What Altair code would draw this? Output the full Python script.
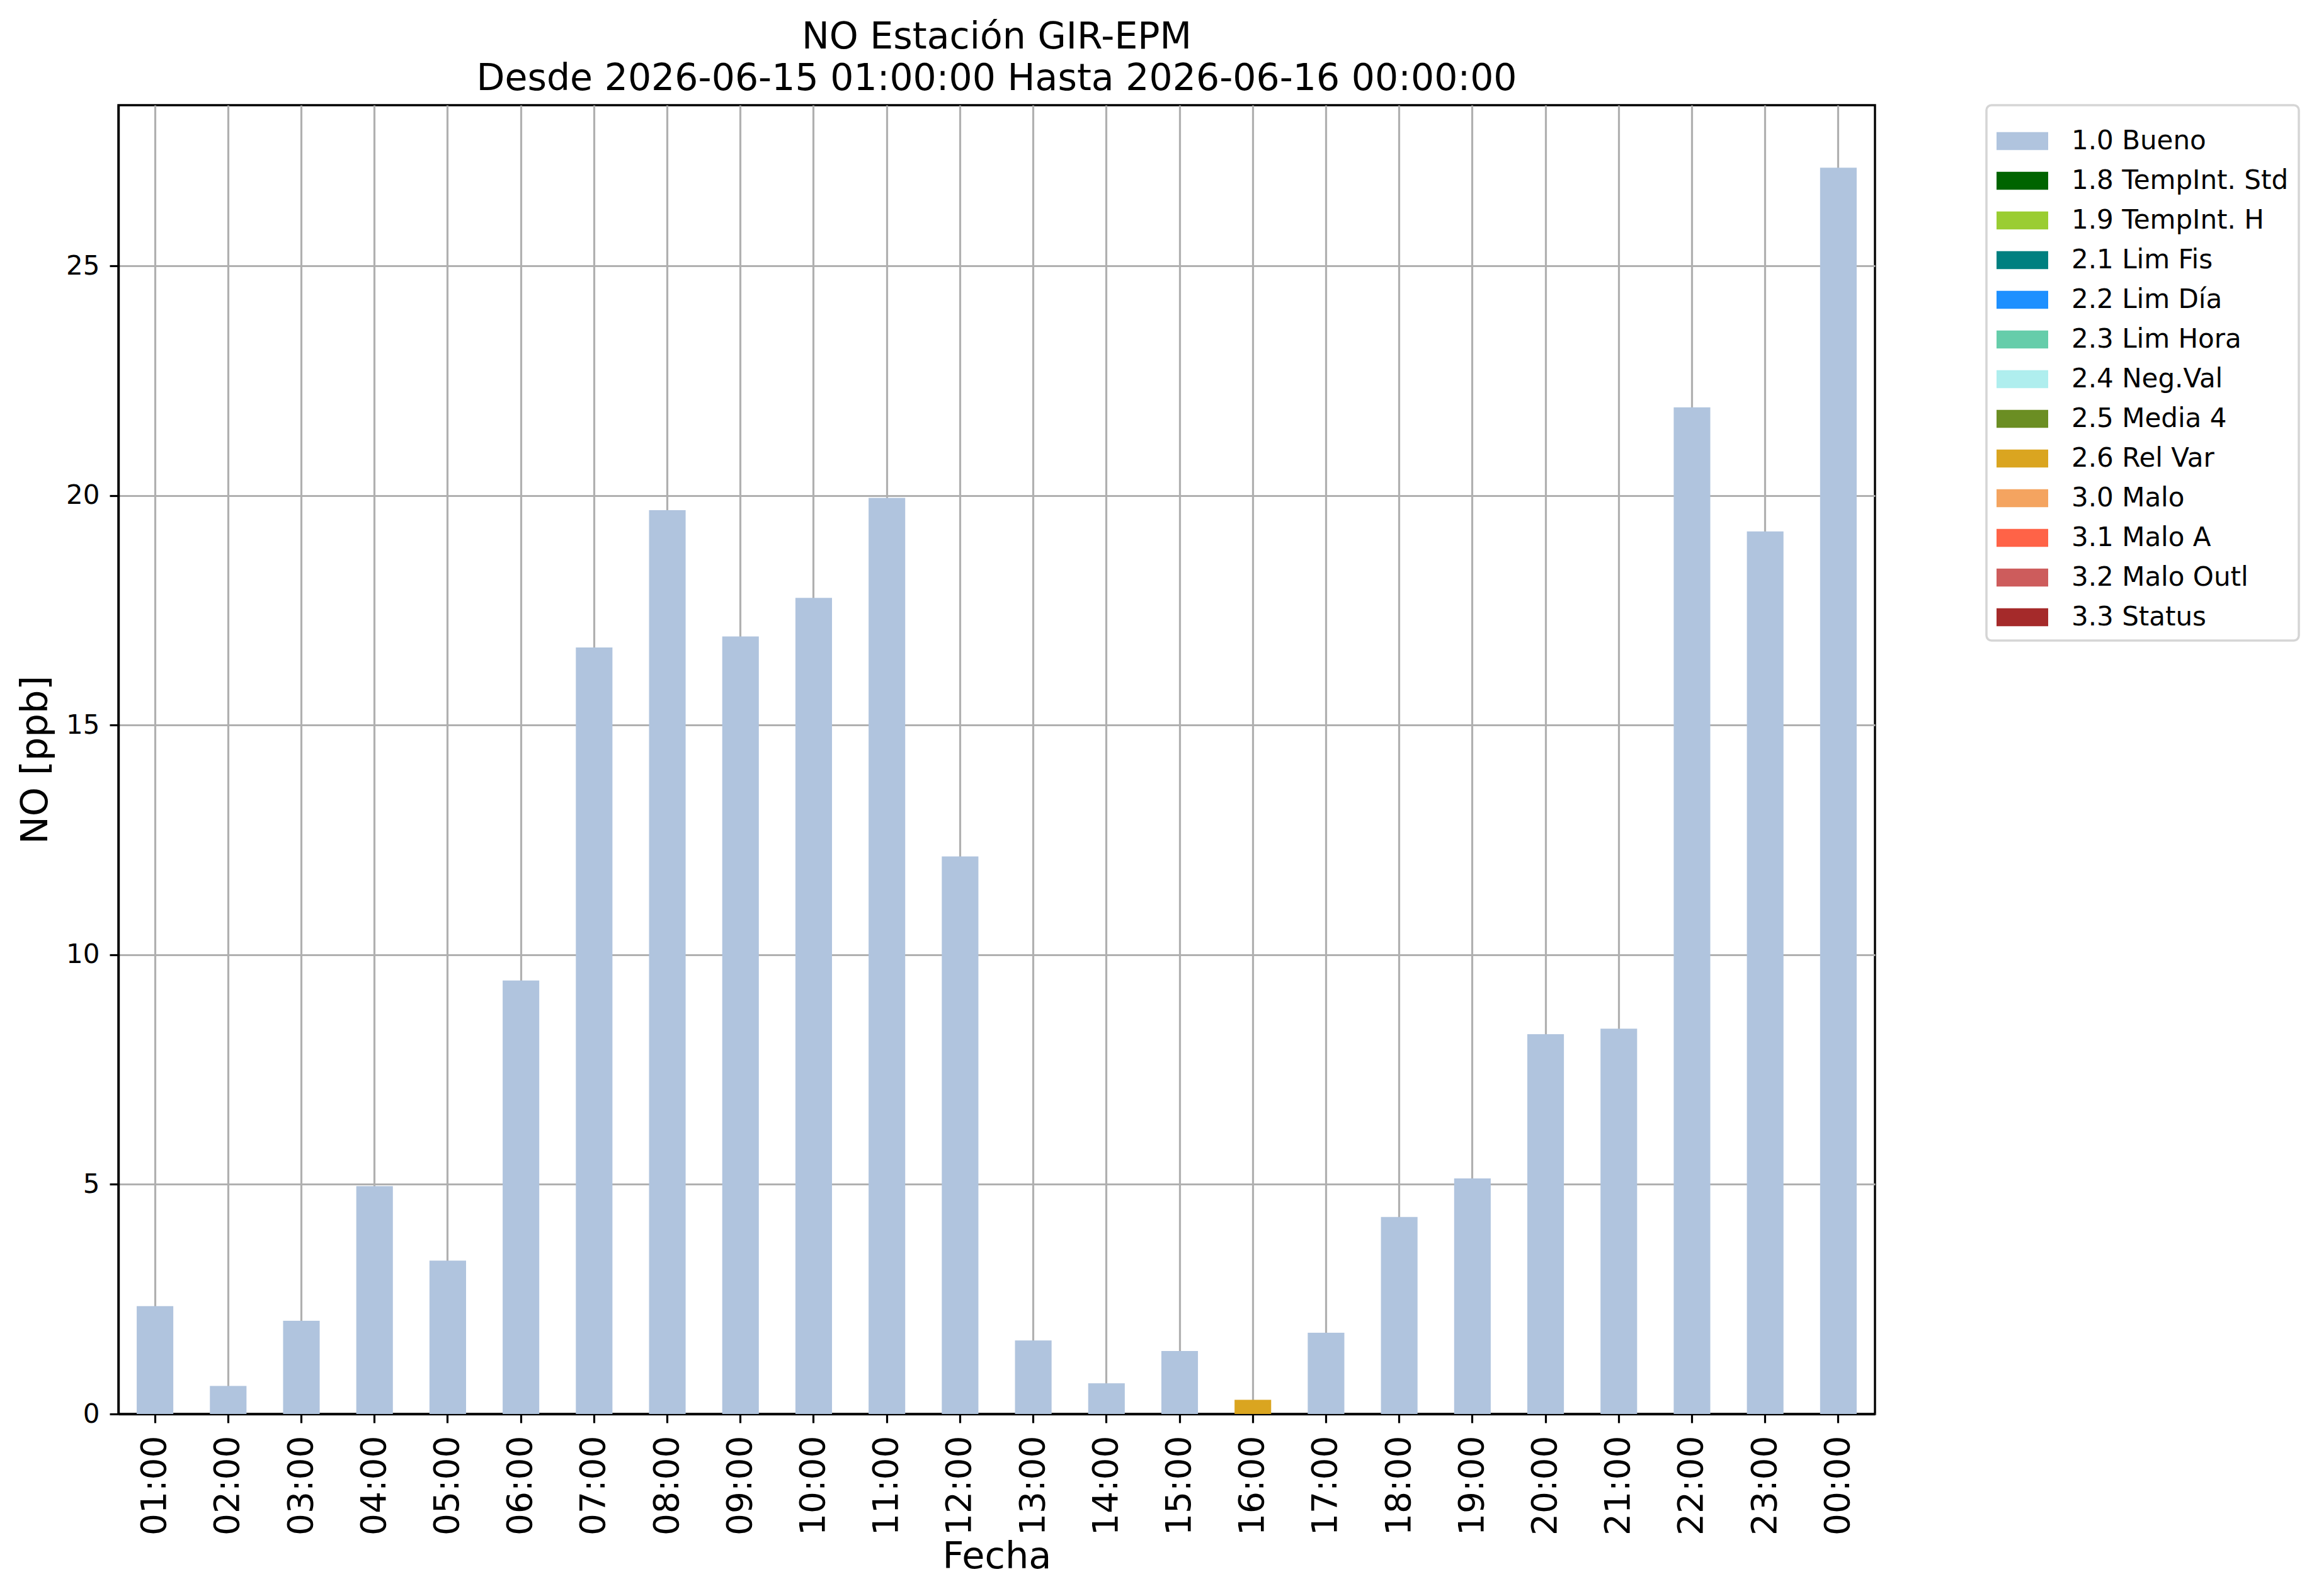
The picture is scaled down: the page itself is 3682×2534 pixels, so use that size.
import altair as alt
import pandas as pd

hours = ["01:00", "02:00", "03:00", "04:00", "05:00", "06:00", "07:00", "08:00",
         "09:00", "10:00", "11:00", "12:00", "13:00", "14:00", "15:00", "16:00",
         "17:00", "18:00", "19:00", "20:00", "21:00", "22:00", "23:00", "00:00"]
values = [2.35, 0.61, 2.03, 4.96, 3.34, 9.44, 16.69, 19.68, 16.93, 17.77, 19.95, 12.14,
          1.60, 0.67, 1.37, 0.31, 1.77, 4.29, 5.13, 8.27, 8.39, 21.92, 19.22, 27.14]
flags = ["1.0 Bueno"] * 15 + ["2.6 Rel Var"] + ["1.0 Bueno"] * 8

flag_labels = ["1.0 Bueno", "1.8 TempInt. Std", "1.9 TempInt. H", "2.1 Lim Fis",
               "2.2 Lim Día", "2.3 Lim Hora", "2.4 Neg.Val", "2.5 Media 4",
               "2.6 Rel Var", "3.0 Malo", "3.1 Malo A", "3.2 Malo Outl", "3.3 Status"]
flag_colors = ["#B0C4DE", "#006400", "#9ACD32", "#008080", "#1E90FF", "#66CDAA",
               "#AFEEEE", "#6B8E23", "#DAA520", "#F4A460", "#FF6347", "#CD5C5C",
               "#A52A2A"]

y_ticks = [0, 5, 10, 15, 20, 25]

df = pd.DataFrame({"hora": hours, "valor": values, "flag": flags})

FONT = "DejaVu Sans"

chart = alt.Chart(df).mark_bar().encode(
    x=alt.X("hora:N", sort=hours,
            scale=alt.Scale(paddingInner=0.5, paddingOuter=0.25),
            axis=alt.Axis(title="Fecha", labelAngle=270, labelFontSize=55,
                          labelPadding=20, labelOverlap=False, tickSize=14,
                          titleFontSize=59, titlePadding=5)),
    y=alt.Y("valor:Q",
            scale=alt.Scale(domain=[0, 28.5], nice=False, zero=True),
            axis=alt.Axis(title="NO [ppb]", values=y_ticks, labelFontSize=42,
                          labelPadding=16, labelFlush=False, tickSize=14,
                          titleFontSize=59, titlePadding=18)),
    color=alt.Color("flag:N",
                    scale=alt.Scale(domain=flag_labels, range=flag_colors),
                    legend=alt.Legend(title=None, orient="none", legendX=2966, legendY=0)),
).properties(
    width=2789,
    height=2078,
    title=alt.TitleParams(
        text=["NO Estación GIR-EPM",
              "Desde 2026-06-15 01:00:00 Hasta 2026-06-16 00:00:00"],
        fontSize=58.5, fontWeight="normal", font=FONT, color="black",
        anchor="middle", frame="group", baseline="bottom", offset=12, dy=60,
        lineHeight=66),
    autosize=alt.AutoSizeParams(type="none"),
    padding={"left": 180, "top": 159, "right": 690, "bottom": 280},
).configure(
    font=FONT,
    background="white",
).configure_view(
    stroke="black",
    strokeWidth=3.4,
).configure_axis(
    zindex=1,
    grid=True,
    gridColor="#b0b0b0",
    gridWidth=3.2,
    domain=True,
    domainColor="black",
    domainWidth=3.4,
    tickColor="black",
    tickWidth=3.2,
    labelColor="black",
    titleColor="black",
    labelFont=FONT,
    titleFont=FONT,
    titleFontWeight="normal",
).configure_legend(
    symbolType="M-1,-0.35L1,-0.35L1,0.35L-1,0.35Z",
    symbolSize=6724,
    symbolStrokeWidth=0,
    symbolOpacity=1,
    labelOffset=37,
    labelFontSize=42,
    labelFont=FONT,
    labelColor="black",
    labelLimit=1000,
    rowPadding=1,
    padding=16,
    strokeColor="#d5d5d5",
    strokeWidth=3.5,
    fillColor="white",
    cornerRadius=8,
)

chart.save("out.html", embed_options={"renderer": "svg", "actions": False})
